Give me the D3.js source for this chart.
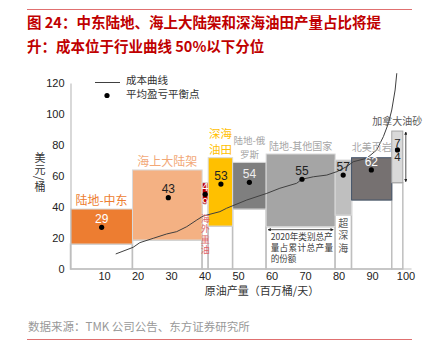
<!DOCTYPE html>
<html><head><meta charset="utf-8">
<script src="https://cdn.jsdelivr.net/npm/d3@7"></script>
<style>
html,body{margin:0;padding:0;background:#fff;}
svg{display:block;font-family:"Liberation Sans","Noto Sans CJK SC",sans-serif;}
.cjk{font-family:"Noto Sans CJK SC","Liberation Sans",sans-serif;}
.vert{writing-mode:vertical-rl;text-orientation:mixed;}
</style></head>
<body>
<script>
// ---- data ----
const categories = ["陆地-中东","海上大陆架","海外重油","深海油田","陆地-俄罗斯","陆地-其他国家","超深海","北美页岩","加拿大油砂"];
const production = [18.5, 20.8, 1.8, 7.3, 10.0, 20.6, 4.9, 12.0, 3.3];   // 百万桶/天 (bar widths)
const costLow  = [16.1, 18.7, 41.9, 27.7, 38.7, 27.3, 34.8, 44.5, 55.7];
const costHigh = [38.7, 63.9, 55.7, 71.8, 68.8, 74.2, 70.3, 71.8, 89.0];
const breakevenLabel = ["29","43","49","53","54","55","57","62","74"];
const breakevenDotX = [9.3, 29.2, 40.2, 44.9, 53.4, 69.1, 81.4, 89.8, 97.6];
const breakevenDotY = [26.9, 46.0, 48.2, 54.8, 55.9, 57.9, 60.6, 63.9, 76.8];
const curveX = [13.5,18.7,20.7,24.7,28.7,31.7,34.7,37.7,39.6,44.6,46.6,52.6,58.6,62.5,67.5,69.1,72.5,76.5,79.5,82.4,84.4,88.4,91.4,93.4,94.9,95.9,96.9,97.4];
const curveY = [9.7,14.0,17.0,19.8,22.6,24.1,27.3,31.6,34.2,37.0,39.2,44.5,48.8,52.1,55.3,57.9,59.5,60.6,62.8,66.0,69.2,71.4,76.8,85.4,94.0,102.6,115.5,126.3];
const xTicks = [10,20,30,40,50,60,70,80,90,100];
const yTicks = [0,20,40,60,80,100,120];

// ---- styles ----
const fills = ["#ED7D31","#F4B183","#C00000","#FFC000","#7F7F7F","#A5A5A5","#BFBFBF","#767171","#D9D9D9"];
const strokes = ["#D9D9D9","#D9D9D9","#D9D9D9","#D9D9D9","#D9D9D9","#D9D9D9","#D9D9D9","#44546A","#A6A6A6"];
const valColors = ["#fff","#222","#fff","#222","#eee","#222","#222","#fff","#222"];

const W = 432, H = 350;
const svg = d3.select("body").append("svg").attr("width", W).attr("height", H);

const x = d3.scaleLinear().domain([0,100]).range([70.5,405.5]);
const y = d3.scaleLinear().domain([0,120]).range([269,83]);

// title & frame lines
svg.append("line").attr("x1",27).attr("x2",412).attr("y1",9.5).attr("y2",9.5)
  .attr("stroke","#E07070").attr("stroke-width",1.2);
const title = svg.append("text").attr("class","cjk").attr("x",27).attr("fill","#C00000")
  .attr("font-size",14.5).attr("font-weight","bold");
title.append("tspan").attr("x",27).attr("y",28).text("图 24：中东陆地、海上大陆架和深海油田产量占比将提");
title.append("tspan").attr("x",27).attr("y",52).text("升：成本位于行业曲线 50%以下分位");

// bars
const ends = d3.cumsum(production);
const starts = ends.map((e,i)=> e - production[i]);
const idx = d3.range(categories.length);

const g = svg.append("g");
g.selectAll("rect.base").data(idx).join("rect").attr("class","base")
  .attr("x", i=>x(starts[i])).attr("width", i=>x(ends[i])-x(starts[i]))
  .attr("y", i=>y(costLow[i])).attr("height", i=>y(0)-y(costLow[i]))
  .attr("fill","#fff").attr("stroke","#BFBFBF").attr("stroke-width",1.5);
g.selectAll("rect.cost").data(idx).join("rect").attr("class","cost")
  .attr("x", i=>x(starts[i])).attr("width", i=>x(ends[i])-x(starts[i]))
  .attr("y", i=>y(costHigh[i])).attr("height", i=>y(costLow[i])-y(costHigh[i]))
  .attr("fill", i=>fills[i]).attr("stroke", i=>strokes[i]).attr("stroke-width",1);

// axes
const yAxis = svg.append("g").attr("transform",`translate(${x(0)},0)`)
  .call(d3.axisLeft(y).tickValues(yTicks).tickSize(0).tickPadding(6));
yAxis.select(".domain").attr("stroke","#BFBFBF").attr("stroke-width",1.2);
yAxis.selectAll("text").attr("font-size",11).attr("fill","#222").attr("font-family","Liberation Sans");

const xAxis = svg.append("g").attr("transform",`translate(0,${y(0)})`)
  .call(d3.axisBottom(x).tickValues(xTicks).tickSize(0).tickPadding(3));
xAxis.select(".domain").remove();
xAxis.selectAll("text").attr("font-size",11).attr("fill","#222").attr("font-family","Liberation Sans");
svg.append("line").attr("x1",x(0)).attr("x2",x(101.8)).attr("y1",y(0)).attr("y2",y(0))
  .attr("stroke","#BFBFBF").attr("stroke-width",1.2);

// axis titles
svg.append("text").attr("class","cjk vert").attr("x",40).attr("y",152)
  .attr("font-size",11).attr("letter-spacing",1).attr("fill","#333").text("美元/桶");
svg.append("text").attr("class","cjk").attr("x",262).attr("y",295).attr("text-anchor","middle")
  .attr("font-size",11).attr("fill","#333").text("原油产量（百万桶/天）");

// cost curve
const line = d3.line().x(d=>x(d[0])).y(d=>y(d[1]));
svg.append("path").datum(d3.zip(curveX, curveY)).attr("d", line)
  .attr("fill","none").attr("stroke","#404040").attr("stroke-width",1);

// breakeven dots
svg.selectAll("circle.be").data(idx).join("circle").attr("class","be")
  .attr("cx", i=>x(breakevenDotX[i])).attr("cy", i=>y(breakevenDotY[i])).attr("r",2.6).attr("fill","#000");

// value labels
idx.forEach(i=>{
  const cx = x(breakevenDotX[i]), cy = y(breakevenDotY[i]);
  const lab = breakevenLabel[i];
  if (i===2 || i===8) {
    const t = svg.append("text").attr("text-anchor","middle").attr("font-size",11.5).attr("fill",valColors[i]);
    t.append("tspan").attr("x",cx).attr("y",cy-3).text(lab[0]);
    t.append("tspan").attr("x",cx).attr("y",cy+11.5).text(lab[1]);
  } else {
    svg.append("text").attr("x",cx).attr("y",cy-7.5).attr("text-anchor","middle").attr("dominant-baseline","middle")
      .attr("font-size",12).attr("fill",valColors[i]).text(lab);
  }
});

// category labels
const catLabelCfg = [
  {lines:["陆地-中东"], color:"#ED7D31", size:12},
  {lines:["海上大陆架"], color:"#F2A877", size:12},
  {vertical:"海外重油", color:"#E06666", size:9, spacing:1.5, off:10},
  {lines:["深海","油田"], color:"#FFC000", size:11.5, step:16},
  {lines:["陆地-俄","罗斯"], color:"#A6A6A6", size:9.5, step:14},
  {lines:["陆地-其他国家"], color:"#A6A6A6", size:10},
  {vertical:"超深海", color:"#595959", size:10, spacing:2.5, off:3},
  {lines:["北美页岩"], color:"#A6A6A6", size:10, extra:2},
  {lines:["加拿大油砂"], color:"#595959", size:10, extra:2}
];
idx.forEach(i=>{
  const c = catLabelCfg[i];
  const cx = (x(starts[i])+x(ends[i]))/2;
  if (c.vertical) {
    svg.append("text").attr("class","cjk vert").attr("x",cx).attr("y",y(costLow[i]) + c.off)
      .attr("font-size",c.size).attr("letter-spacing",c.spacing).attr("fill",c.color).text(c.vertical);
    return;
  }
  const n = c.lines.length, step = c.step||13;
  const t = svg.append("text").attr("class","cjk").attr("text-anchor","middle")
    .attr("font-size",c.size).attr("fill",c.color);
  c.lines.forEach((s,k)=>{
    const ty = y(costHigh[i]) - 8 - (c.extra||0) - (n-1-k)*step + c.size*0.36;
    t.append("tspan").attr("x",cx).attr("y",ty).text(s);
  });
});

// annotation: share of production
const ai = 5;
const ax0 = x(starts[ai])+2, ax1 = x(ends[ai])-2, ay = y(costLow[ai])+3;
const defs = svg.append("defs");
defs.append("marker").attr("id","ah").attr("viewBox","0 0 6 6").attr("refX",5).attr("refY",3)
  .attr("markerWidth",4).attr("markerHeight",4).attr("orient","auto-start-reverse")
  .append("path").attr("d","M0,0L6,3L0,6Z").attr("fill","#222");
svg.append("line").attr("x1",ax0).attr("x2",ax1).attr("y1",ay).attr("y2",ay)
  .attr("stroke","#222").attr("stroke-width",0.8)
  .attr("marker-start","url(#ah)").attr("marker-end","url(#ah)");
const ann = svg.append("text").attr("class","cjk").attr("font-size",8.6).attr("fill","#404040");
["2020年类别总产","量占累计总产量","的份额"].forEach((t,k)=>
  ann.append("tspan").attr("x",ax0+2.5).attr("y",ay+10+k*11.3).attr("letter-spacing",k===1?0.4:0).text(t));

// vertical arrow next to 加拿大油砂
const vi = 8;
svg.append("line").attr("x1",x(ends[vi])+3).attr("x2",x(ends[vi])+3)
  .attr("y1",y(costHigh[vi])+1).attr("y2",y(costLow[vi])-1)
  .attr("stroke","#222").attr("stroke-width",0.8)
  .attr("marker-start","url(#ah)").attr("marker-end","url(#ah)");

// legend
svg.append("line").attr("x1",95).attr("x2",120).attr("y1",82.5).attr("y2",82.5).attr("stroke","#404040").attr("stroke-width",1);
svg.append("circle").attr("cx",107).attr("cy",95.5).attr("r",2.6).attr("fill","#000");
svg.append("text").attr("class","cjk").attr("x",126).attr("y",81.5).attr("dominant-baseline","middle")
  .attr("font-size",10.5).attr("fill","#333").text("成本曲线");
svg.append("text").attr("class","cjk").attr("x",126).attr("y",95.5).attr("dominant-baseline","middle")
  .attr("font-size",10.5).attr("fill","#333").text("平均盈亏平衡点");

// source & bottom line
svg.append("text").attr("class","cjk").attr("x",28).attr("y",331).attr("font-size",11.5).attr("fill","#999")
  .text("数据来源：TMK 公司公告、东方证券研究所");
svg.append("line").attr("x1",27).attr("x2",412).attr("y1",339.5).attr("y2",339.5)
  .attr("stroke","#E07070").attr("stroke-width",1.2);
</script>
</body></html>
